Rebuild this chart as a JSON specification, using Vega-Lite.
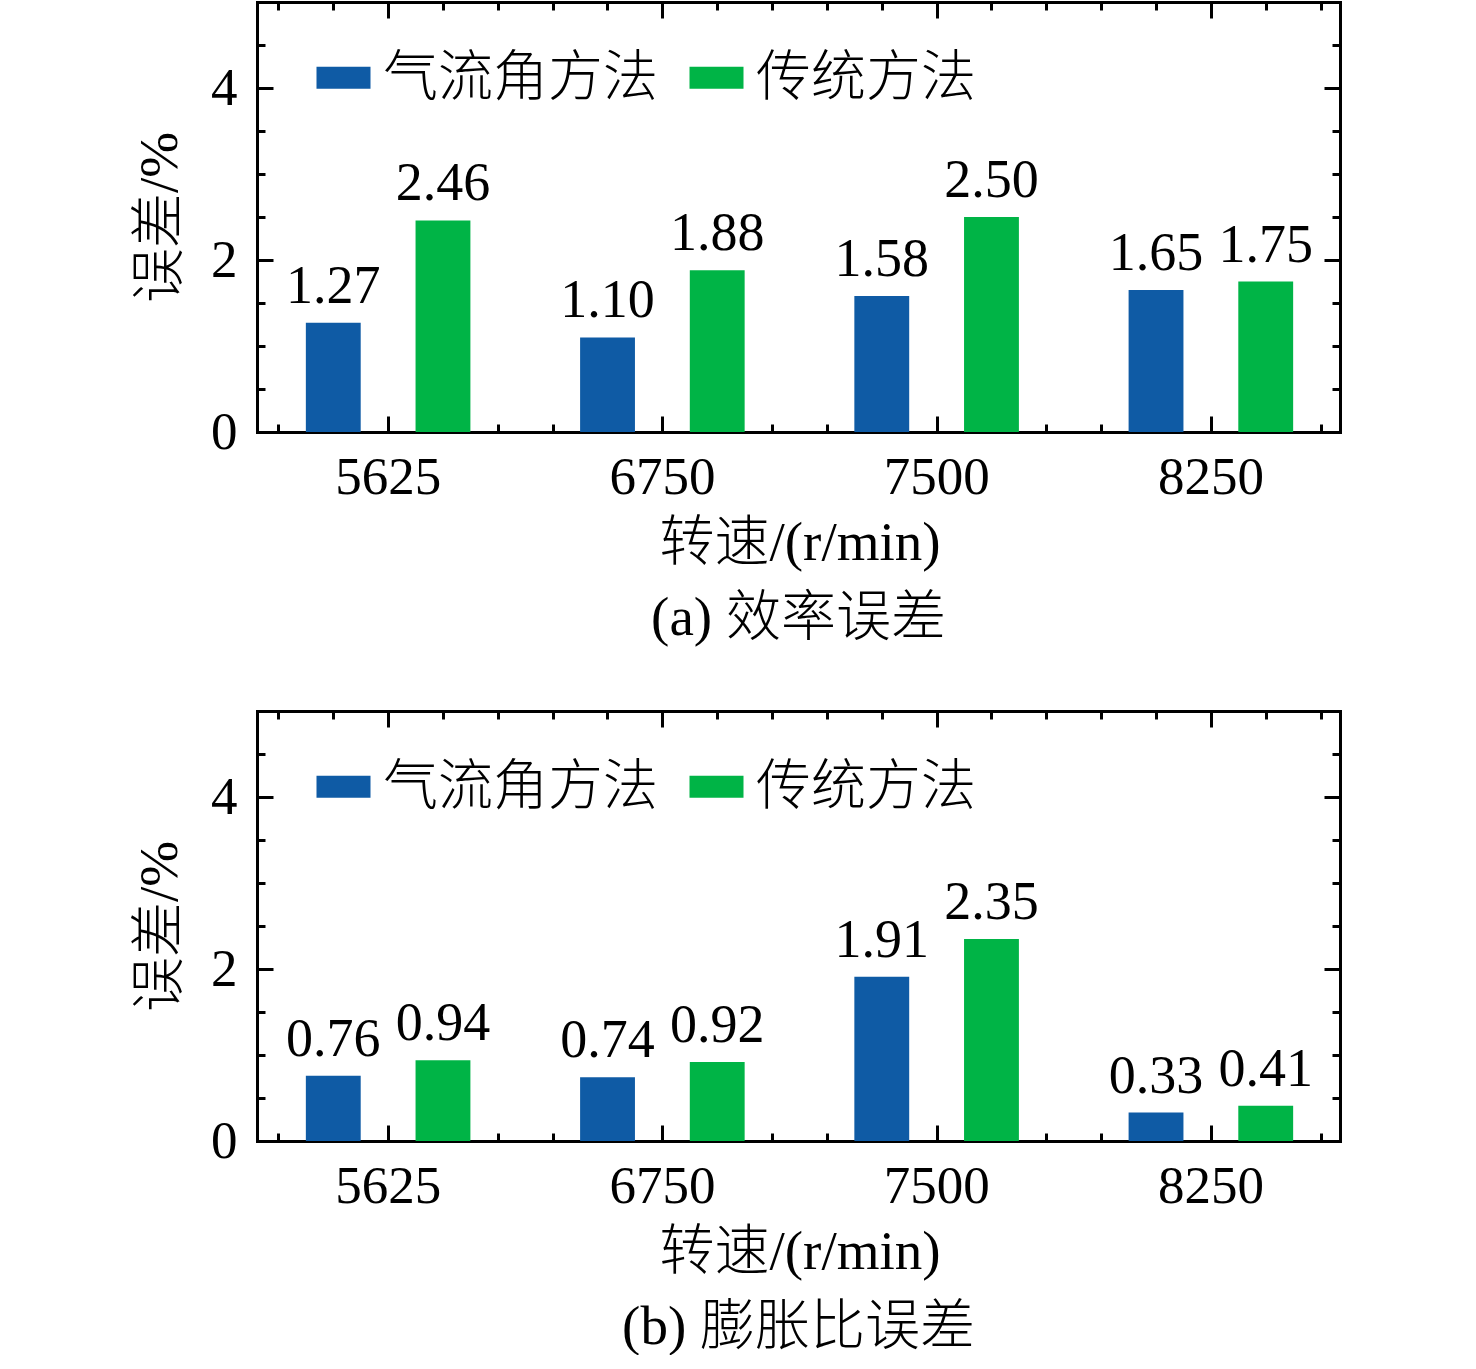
{
  "$schema": "https://vega.github.io/schema/vega-lite/v6.json",
  "padding": {"left": 132, "top": 0, "right": 0, "bottom": 0},
  "datasets": {
    "eff": [
      {"speed": "5625", "method": "气流角方法", "value": 1.27},
      {"speed": "5625", "method": "传统方法", "value": 2.46},
      {"speed": "6750", "method": "气流角方法", "value": 1.10},
      {"speed": "6750", "method": "传统方法", "value": 1.88},
      {"speed": "7500", "method": "气流角方法", "value": 1.58},
      {"speed": "7500", "method": "传统方法", "value": 2.50},
      {"speed": "8250", "method": "气流角方法", "value": 1.65},
      {"speed": "8250", "method": "传统方法", "value": 1.75}
    ],
    "ratio": [
      {"speed": "5625", "method": "气流角方法", "value": 0.76},
      {"speed": "5625", "method": "传统方法", "value": 0.94},
      {"speed": "6750", "method": "气流角方法", "value": 0.74},
      {"speed": "6750", "method": "传统方法", "value": 0.92},
      {"speed": "7500", "method": "气流角方法", "value": 1.91},
      {"speed": "7500", "method": "传统方法", "value": 2.35},
      {"speed": "8250", "method": "气流角方法", "value": 0.33},
      {"speed": "8250", "method": "传统方法", "value": 0.41}
    ]
  },
  "spacing": 63,
  "vconcat": [
    {
      "data": {"name": "eff"},
      "width": 1083,
      "height": 430,
      "title": {"text": "(a) 效率误差", "orient": "bottom", "offset": 22},
      "layer": [
        {
          "mark": {"type": "bar"},
          "encoding": {
            "x": {"field": "speed", "type": "nominal", "sort": null,
              "scale": {"range": [-6, 1091], "paddingInner": 0, "paddingOuter": 0},
              "axis": {"orient": "bottom", "ticks": false, "domain": false, "labelAngle": 0, "labelPadding": 19, "title": "转速/(r/min)", "titlePadding": 12}},
            "xOffset": {"field": "method", "type": "nominal", "sort": ["气流角方法", "传统方法"],
              "scale": {"paddingInner": 0.5, "paddingOuter": 0.5}},
            "y": {"field": "value", "type": "quantitative",
              "scale": {"domain": [0, 5], "nice": false},
              "axis": {"orient": "left", "values": [0, 2, 4], "ticks": false, "domain": false, "labelPadding": 20, "title": "误差/%", "titlePadding": 22}},
            "color": {"field": "method", "type": "nominal", "sort": ["气流角方法", "传统方法"],
              "scale": {"domain": ["气流角方法", "传统方法"], "range": ["#0F5BA5", "#00B446"]},
              "legend": {"orient": "none", "legendX": 59, "legendY": 48, "direction": "horizontal", "title": null}}
          }
        },
        {
          "mark": {"type": "text", "baseline": "alphabetic", "dy": -20, "fontSize": 54},
          "encoding": {
            "x": {"field": "speed", "type": "nominal", "sort": null,
              "scale": {"range": [-6, 1091], "paddingInner": 0, "paddingOuter": 0}, "axis": null},
            "xOffset": {"field": "method", "type": "nominal", "sort": ["气流角方法", "传统方法"],
              "scale": {"paddingInner": 0.5, "paddingOuter": 0.5}},
            "y": {"field": "value", "type": "quantitative", "axis": null},
            "text": {"field": "value", "type": "quantitative", "format": ".2f"}
          }
        },
        {
          "mark": {"type": "point", "opacity": 0},
          "encoding": {
            "x": {"field": "value", "type": "quantitative", "scale": {"domain": [0.522, 4.471], "nice": false, "zero": false},
              "axis": {"orient": "bottom", "values": [0.6, 0.8, 1.0, 1.2, 1.4, 1.6, 1.8, 2.0, 2.2, 2.4, 2.6, 2.8, 3.0, 3.2, 3.4, 3.6, 3.8, 4.0, 4.2, 4.4], "tickSize": -8, "labels": false, "title": null, "domain": true}},
            "y": {"field": "value", "type": "quantitative",
              "axis": {"orient": "left", "values": [0.5, 1, 1.5, 2, 2.5, 3, 3.5, 4, 4.5], "tickSize": -8, "labels": false, "title": null, "domain": true}}
          }
        },
        {
          "mark": {"type": "point", "opacity": 0},
          "encoding": {
            "x": {"field": "value", "type": "quantitative", "scale": {"domain": [0.522, 4.471], "nice": false, "zero": false},
              "axis": {"orient": "bottom", "values": [1, 2, 3, 4], "tickSize": -16, "labels": false, "title": null, "domain": false}},
            "y": {"field": "value", "type": "quantitative",
              "axis": {"orient": "left", "values": [2, 4], "tickSize": -16, "labels": false, "title": null, "domain": false}}
          }
        },
        {
          "mark": {"type": "point", "opacity": 0},
          "encoding": {
            "x": {"field": "value", "type": "quantitative", "scale": {"domain": [0.522, 4.471], "nice": false, "zero": false},
              "axis": {"orient": "top", "values": [0.6, 0.8, 1.0, 1.2, 1.4, 1.6, 1.8, 2.0, 2.2, 2.4, 2.6, 2.8, 3.0, 3.2, 3.4, 3.6, 3.8, 4.0, 4.2, 4.4], "tickSize": -8, "labels": false, "title": null, "domain": true}},
            "y": {"field": "value", "type": "quantitative",
              "axis": {"orient": "right", "values": [0.5, 1, 1.5, 2, 2.5, 3, 3.5, 4, 4.5], "tickSize": -8, "labels": false, "title": null, "domain": true}}
          }
        },
        {
          "mark": {"type": "point", "opacity": 0},
          "encoding": {
            "x": {"field": "value", "type": "quantitative", "scale": {"domain": [0.522, 4.471], "nice": false, "zero": false},
              "axis": {"orient": "top", "values": [1, 2, 3, 4], "tickSize": -16, "labels": false, "title": null, "domain": false}},
            "y": {"field": "value", "type": "quantitative",
              "axis": {"orient": "right", "values": [2, 4], "tickSize": -16, "labels": false, "title": null, "domain": false}}
          }
        }
      ],
      "resolve": {"scale": {"x": "independent"}, "axis": {"x": "independent", "y": "independent"}}
    },
    {
      "data": {"name": "ratio"},
      "width": 1083,
      "height": 430,
      "title": {"text": "(b) 膨胀比误差", "orient": "bottom", "offset": 22},
      "layer": [
        {
          "mark": {"type": "bar"},
          "encoding": {
            "x": {"field": "speed", "type": "nominal", "sort": null,
              "scale": {"range": [-6, 1091], "paddingInner": 0, "paddingOuter": 0},
              "axis": {"orient": "bottom", "ticks": false, "domain": false, "labelAngle": 0, "labelPadding": 19, "title": "转速/(r/min)", "titlePadding": 12}},
            "xOffset": {"field": "method", "type": "nominal", "sort": ["气流角方法", "传统方法"],
              "scale": {"paddingInner": 0.5, "paddingOuter": 0.5}},
            "y": {"field": "value", "type": "quantitative",
              "scale": {"domain": [0, 5], "nice": false},
              "axis": {"orient": "left", "values": [0, 2, 4], "ticks": false, "domain": false, "labelPadding": 20, "title": "误差/%", "titlePadding": 22}},
            "color": {"field": "method", "type": "nominal", "sort": ["气流角方法", "传统方法"],
              "scale": {"domain": ["气流角方法", "传统方法"], "range": ["#0F5BA5", "#00B446"]},
              "legend": {"orient": "none", "legendX": 59, "legendY": 48, "direction": "horizontal", "title": null}}
          }
        },
        {
          "mark": {"type": "text", "baseline": "alphabetic", "dy": -20, "fontSize": 54},
          "encoding": {
            "x": {"field": "speed", "type": "nominal", "sort": null,
              "scale": {"range": [-6, 1091], "paddingInner": 0, "paddingOuter": 0}, "axis": null},
            "xOffset": {"field": "method", "type": "nominal", "sort": ["气流角方法", "传统方法"],
              "scale": {"paddingInner": 0.5, "paddingOuter": 0.5}},
            "y": {"field": "value", "type": "quantitative", "axis": null},
            "text": {"field": "value", "type": "quantitative", "format": ".2f"}
          }
        },
        {
          "mark": {"type": "point", "opacity": 0},
          "encoding": {
            "x": {"field": "value", "type": "quantitative", "scale": {"domain": [0.522, 4.471], "nice": false, "zero": false},
              "axis": {"orient": "bottom", "values": [0.6, 0.8, 1.0, 1.2, 1.4, 1.6, 1.8, 2.0, 2.2, 2.4, 2.6, 2.8, 3.0, 3.2, 3.4, 3.6, 3.8, 4.0, 4.2, 4.4], "tickSize": -8, "labels": false, "title": null, "domain": true}},
            "y": {"field": "value", "type": "quantitative",
              "axis": {"orient": "left", "values": [0.5, 1, 1.5, 2, 2.5, 3, 3.5, 4, 4.5], "tickSize": -8, "labels": false, "title": null, "domain": true}}
          }
        },
        {
          "mark": {"type": "point", "opacity": 0},
          "encoding": {
            "x": {"field": "value", "type": "quantitative", "scale": {"domain": [0.522, 4.471], "nice": false, "zero": false},
              "axis": {"orient": "bottom", "values": [1, 2, 3, 4], "tickSize": -16, "labels": false, "title": null, "domain": false}},
            "y": {"field": "value", "type": "quantitative",
              "axis": {"orient": "left", "values": [2, 4], "tickSize": -16, "labels": false, "title": null, "domain": false}}
          }
        },
        {
          "mark": {"type": "point", "opacity": 0},
          "encoding": {
            "x": {"field": "value", "type": "quantitative", "scale": {"domain": [0.522, 4.471], "nice": false, "zero": false},
              "axis": {"orient": "top", "values": [0.6, 0.8, 1.0, 1.2, 1.4, 1.6, 1.8, 2.0, 2.2, 2.4, 2.6, 2.8, 3.0, 3.2, 3.4, 3.6, 3.8, 4.0, 4.2, 4.4], "tickSize": -8, "labels": false, "title": null, "domain": true}},
            "y": {"field": "value", "type": "quantitative",
              "axis": {"orient": "right", "values": [0.5, 1, 1.5, 2, 2.5, 3, 3.5, 4, 4.5], "tickSize": -8, "labels": false, "title": null, "domain": true}}
          }
        },
        {
          "mark": {"type": "point", "opacity": 0},
          "encoding": {
            "x": {"field": "value", "type": "quantitative", "scale": {"domain": [0.522, 4.471], "nice": false, "zero": false},
              "axis": {"orient": "top", "values": [1, 2, 3, 4], "tickSize": -16, "labels": false, "title": null, "domain": false}},
            "y": {"field": "value", "type": "quantitative",
              "axis": {"orient": "right", "values": [2, 4], "tickSize": -16, "labels": false, "title": null, "domain": false}}
          }
        }
      ],
      "resolve": {"scale": {"x": "independent"}, "axis": {"x": "independent", "y": "independent"}}
    }
  ],
  "resolve": {"scale": {"color": "independent"}, "legend": {"color": "independent"}},
  "config": {
    "font": "Liberation Serif, Noto Sans CJK SC",
    "view": {"stroke": null},
    "axis": {
      "grid": false,
      "domainColor": "black",
      "domainWidth": 3,
      "domainCap": "square",
      "tickColor": "black",
      "tickWidth": 3,
      "labelColor": "black",
      "labelFontSize": 53,
      "titleColor": "black",
      "titleFontSize": 55,
      "titleFontWeight": 300
    },
    "legend": {
      "symbolType": "M-1,-0.41H1V0.41H-1Z",
      "symbolSize": 2916,
      "symbolStrokeWidth": 0,
      "symbolOpacity": 1,
      "labelFontSize": 55,
      "labelFontWeight": 300,
      "labelLimit": 0,
      "labelColor": "black",
      "labelOffset": 12,
      "columnPadding": 30,
      "padding": 0
    },
    "text": {"color": "black"},
    "title": {"fontSize": 55, "fontWeight": 300, "color": "black"}
  }
}
